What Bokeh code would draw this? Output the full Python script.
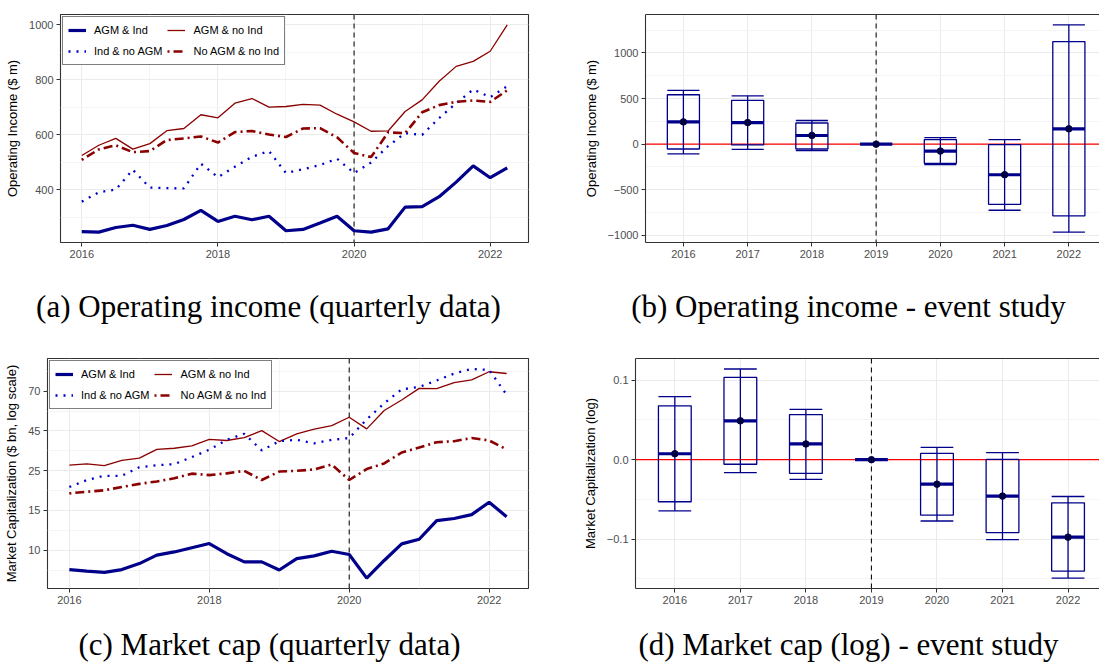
from bokeh.plotting import figure
from bokeh.layouts import column, row
from bokeh.models import FixedTicker, Span, Legend, LegendItem, LinearAxis, CustomJSTickFormatter
from bokeh.core.properties import value
from bokeh.embed import file_html
from bokeh.resources import INLINE

# ---------------- data ----------------
quarters = ["2016Q1", "2016Q2", "2016Q3", "2016Q4", "2017Q1", "2017Q2", "2017Q3", "2017Q4",
            "2018Q1", "2018Q2", "2018Q3", "2018Q4", "2019Q1", "2019Q2", "2019Q3", "2019Q4",
            "2020Q1", "2020Q2", "2020Q3", "2020Q4", "2021Q1", "2021Q2", "2021Q3", "2021Q4",
            "2022Q1", "2022Q2"]
series_names = ["AGM & Ind", "AGM & no Ind", "Ind & no AGM", "No AGM & no Ind"]

# Operating income ($ m)
oi_agm_ind = [248, 246, 263, 271, 256, 270, 292, 325, 285, 304, 291, 304, 251, 256, 279, 304,
              251, 246, 258, 337, 339, 375, 428, 487, 444, 480]
oi_agm_noind = [525, 562, 587, 548, 568, 615, 623, 673, 662, 715, 732, 701, 703, 711, 708, 675,
                647, 613, 614, 685, 727, 795, 849, 867, 904, 1000]
oi_ind_noagm = [357, 391, 401, 473, 408, 406, 405, 495, 446, 484, 520, 541, 461, 475, 490, 513,
                461, 499, 559, 606, 600, 661, 715, 765, 737, 777]
oi_noagm_noind = [509, 547, 562, 537, 541, 581, 587, 594, 572, 610, 614, 601, 592, 623, 624, 591,
                  534, 519, 609, 606, 682, 708, 720, 725, 720, 762]

# Market capitalization ($ bn)
mc_agm_ind = [7.89, 7.75, 7.62, 7.89, 8.49, 9.41, 9.79, 10.31, 10.85, 9.58, 8.67, 8.67, 7.85, 9.02,
              9.33, 9.87, 9.49, 7.11, 8.82, 10.81, 11.43, 14.37, 14.74, 15.46, 17.98, 15.07]
mc_agm_noind = [28.28, 28.78, 28.16, 30.04, 30.83, 34.34, 34.79, 35.86, 38.75, 38.26, 39.60, 43.17,
                37.77, 41.52, 43.91, 45.85, 50.86, 44.10, 55.20, 62.80, 72.40, 72.10, 77.60, 80.30,
                88.70, 86.80]
mc_ind_noagm = [21.65, 23.60, 24.85, 24.85, 27.56, 28.28, 28.65, 31.23, 34.19, 38.59, 41.52, 33.90,
                37.93, 38.59, 36.96, 38.59, 39.43, 49.56, 60.20, 71.50, 73.70, 79.65, 86.80, 91.80,
                90.65, 67.00]
mc_noagm_noind = [20.03, 20.45, 20.82, 21.65, 22.50, 23.19, 24.11, 25.50, 25.06, 25.60, 26.40, 23.60,
                  26.17, 26.40, 26.86, 28.53, 23.60, 26.97, 28.90, 33.04, 35.09, 37.44, 37.93, 39.43,
                  38.26, 34.34]
mc_tick_values = [10.0, 16.266, 26.458, 43.035, 70.0]
mc_tick_labels = ["10", "15", "25", "45", "70"]
mc_minor_values = [7.84, 12.754, 20.745, 33.745, 54.88, 89.27]

# Event studies
event_years = [2016, 2017, 2018, 2019, 2020, 2021, 2022]
oi_est = [244, 236, 95, 0, -76, -335, 168]
oi_box_lo = [-53, -8, -53, 0, -210, -659, -785]
oi_box_hi = [541, 480, 232, 0, 50, -5, 1124]
oi_ci_lo = [-107, -57, -72, 0, -225, -724, -964]
oi_ci_hi = [590, 530, 259, 0, 72, 50, 1307]

mc_est = [0.0075, 0.0489, 0.0198, 0.0, -0.0308, -0.0458, -0.0974]
mc_box_lo = [-0.0529, -0.0057, -0.0172, 0.0, -0.0696, -0.0916, -0.1401]
mc_box_hi = [0.0678, 0.1035, 0.0568, 0.0, 0.0079, 0.0004, -0.0542]
mc_ci_lo = [-0.0643, -0.0163, -0.0247, 0.0, -0.0771, -0.1004, -0.1489]
mc_ci_hi = [0.0793, 0.1141, 0.0634, 0.0, 0.0154, 0.0088, -0.0463]

captions_top = ["(a) Operating income (quarterly data)", "(b) Operating income - event study"]
captions_bottom = ["(c) Market cap (quarterly data)", "(d) Market cap (log) - event study"]

# ---------------- styling ----------------
SANS = "Liberation Sans"
SERIF = "Liberation Serif"
NAVY = "#00008B"
xq = [int(q[:4]) + (int(q[5]) - 1) / 4 for q in quarters]

line_styles = {
    "AGM & Ind": dict(line_color="#00008B", line_width=3.2),
    "AGM & no Ind": dict(line_color="#8B0000", line_width=1.3),
    "Ind & no AGM": dict(line_color="#0000CD", line_width=2.3, line_dash="2 6"),
    "No AGM & no Ind": dict(line_color="#8B0000", line_width=2.6, line_dash="2 4 9 4"),
}


def style_common(p):
    p.background_fill_color = "white"
    p.border_fill_color = "white"
    for ax in p.axis:
        ax.major_label_text_font = SANS
        ax.major_label_text_font_size = "11px"
        ax.major_label_text_color = "#4D4D4D"
        ax.axis_label_text_font = SANS
        ax.axis_label_text_font_size = "13px"
        ax.axis_label_text_font_style = "normal"
        ax.axis_label_text_color = "black"
        ax.major_tick_line_color = "#333333"
        ax.major_tick_out = 4
        ax.major_tick_in = 0
        ax.minor_tick_line_color = None
        ax.major_label_standoff = 3
        ax.axis_label_standoff = 6
    p.grid.grid_line_color = "#EBEBEB"
    p.grid.grid_line_width = 1.1
    p.grid.minor_grid_line_color = "#F3F3F3"
    p.grid.minor_grid_line_width = 0.9


def quarterly_panel(width, height, mbl, mbt, mbb, y_range, y_type, ylabel, series,
                    yticks, yminor, ylabels=None):
    p = figure(width=width, height=height, x_range=(2015.6875, 2022.5625), y_range=y_range,
               y_axis_type=y_type, toolbar_location=None, output_backend="svg",
               min_border_left=mbl, min_border_right=22, min_border_top=mbt,
               min_border_bottom=mbb)
    style_common(p)
    p.outline_line_color = "#333333"
    p.outline_line_width = 1.1
    for ax in p.axis:
        ax.axis_line_color = None
    p.xaxis.ticker = FixedTicker(ticks=[2016, 2018, 2020, 2022], minor_ticks=[2017, 2019, 2021])
    p.yaxis.ticker = FixedTicker(ticks=yticks, minor_ticks=yminor)
    if ylabels is not None:
        p.yaxis.formatter = CustomJSTickFormatter(args=dict(labels=ylabels),
                                                  code="return labels[index];")
    p.yaxis.axis_label = ylabel
    p.add_layout(Span(location=2020, dimension="height", line_color="#111111",
                      line_dash="5 4", line_width=1.1, level="underlay"))
    rs = {}
    for name, vals in zip(series_names, series):
        rs[name] = p.line(xq, vals, **line_styles[name])
    order = ["AGM & Ind", "Ind & no AGM", "AGM & no Ind", "No AGM & no Ind"]
    legend = Legend(items=[LegendItem(label=n, renderers=[rs[n]]) for n in order],
                    location="top_left", ncols=2,
                    label_text_font=SANS, label_text_font_size="11px", label_text_color="black",
                    glyph_width=18, glyph_height=16, label_height=16, label_standoff=8,
                    padding=5, spacing=5, margin=2,
                    border_line_color="black", border_line_width=1.5,
                    background_fill_color="white", background_fill_alpha=1)
    p.add_layout(legend)
    return p


def event_panel(width, height, mbl, mbt, mbb, x_range, y_range, ylabel,
                est, blo, bhi, clo, chi, yticks, yminor, fmt_code):
    p = figure(width=width, height=height, x_range=x_range, y_range=y_range,
               toolbar_location=None, output_backend="svg",
               min_border_left=mbl, min_border_right=0, min_border_top=mbt,
               min_border_bottom=mbb)
    style_common(p)
    p.outline_line_color = None
    for ax in p.axis:
        ax.axis_line_color = "#333333"
        ax.axis_line_width = 1.1
    p.xaxis.ticker = FixedTicker(ticks=event_years)
    p.yaxis.ticker = FixedTicker(ticks=yticks, minor_ticks=yminor)
    p.yaxis.formatter = CustomJSTickFormatter(code=fmt_code)
    p.yaxis.axis_label = ylabel
    # top border only (the right edge of the panel is cut off at the page edge)
    top = LinearAxis(ticker=FixedTicker(ticks=[]), axis_line_color="#333333", axis_line_width=1.1,
                     major_tick_line_color=None, minor_tick_line_color=None,
                     major_tick_out=0, major_label_standoff=0)
    p.add_layout(top, "above")

    p.add_layout(Span(location=0, dimension="width", line_color="#FF0000", line_width=1.3,
                      level="underlay"))
    p.add_layout(Span(location=2019, dimension="height", line_color="#111111",
                      line_dash="5 4", line_width=1.1, level="underlay"))
    half = 0.25
    left = [y - half for y in event_years]
    right = [y + half for y in event_years]
    p.quad(left=left, right=right, bottom=blo, top=bhi, fill_alpha=0,
           line_color=NAVY, line_width=1.3)
    p.segment(x0=event_years, y0=clo, x1=event_years, y1=chi, line_color=NAVY, line_width=1.3)
    p.segment(x0=left, y0=clo, x1=right, y1=clo, line_color=NAVY, line_width=1.3)
    p.segment(x0=left, y0=chi, x1=right, y1=chi, line_color=NAVY, line_width=1.3)
    p.segment(x0=left, y0=est, x1=right, y1=est, line_color=NAVY, line_width=3.2)
    p.scatter(event_years, est, size=6.5, color="#000044")
    return p


def caption_fig(height, xs, baseline_y, texts):
    c = figure(width=1099, height=height, x_range=(0, 1099), y_range=(0, height),
               toolbar_location=None, output_backend="svg", min_border=0,
               x_axis_location=None, y_axis_location=None, outline_line_color=None)
    c.grid.visible = False
    c.background_fill_color = "white"
    c.border_fill_color = "white"
    c.text(x=xs, y=[baseline_y] * len(xs), text=texts, text_font=value(SERIF),
           text_font_size="31px", text_align="center", text_baseline="alphabetic",
           text_color="black")
    return c


minus_int = "return tick < 0 ? '\u2212' + Math.abs(tick).toString() : tick.toString();"
minus_dec = "var s = Math.abs(tick).toFixed(1); return tick < -1e-9 ? '\u2212' + s : s;"

# Row 1: page y 0-270 ; captions 270-340 ; Row 2: 340-611 ; captions 611-666
pa = quarterly_panel(550, 270, 60, 14, 27, (208.3, 1037.7), "linear", "Operating Income ($ m)",
                     [oi_agm_ind, oi_agm_noind, oi_ind_noagm, oi_noagm_noind],
                     [400, 600, 800, 1000], [300, 500, 700, 900])
pb = event_panel(549, 270, 95, 13, 28, (2015.41, 2022.477), (-1077.5, 1420.5),
                 "Operating Income ($ m)", oi_est, oi_box_lo, oi_box_hi, oi_ci_lo, oi_ci_hi,
                 [-1000, -500, 0, 500, 1000], [-750, -250, 250, 750, 1250], minus_int)
pc = quarterly_panel(550, 271, 47, 18, 23, (6.26, 104.3), "log",
                     "Market Capitalization ($ bn, log scale)",
                     [mc_agm_ind, mc_agm_noind, mc_ind_noagm, mc_noagm_noind],
                     mc_tick_values, mc_minor_values, mc_tick_labels)
pd_ = event_panel(549, 271, 85, 18, 23, (2015.40, 2022.48), (-0.162, 0.1273),
                  "Market Capitalization (log)", mc_est, mc_box_lo, mc_box_hi, mc_ci_lo, mc_ci_hi,
                  [-0.1, 0.0, 0.1], [-0.15, -0.05, 0.05], minus_dec)

cap1 = caption_fig(70, [268, 848], 34, captions_top)
cap2 = caption_fig(55, [269, 848], 22, captions_bottom)

layout = column(row(pa, pb), cap1, row(pc, pd_), cap2)
open("out.html", "w").write(file_html(layout, INLINE))
